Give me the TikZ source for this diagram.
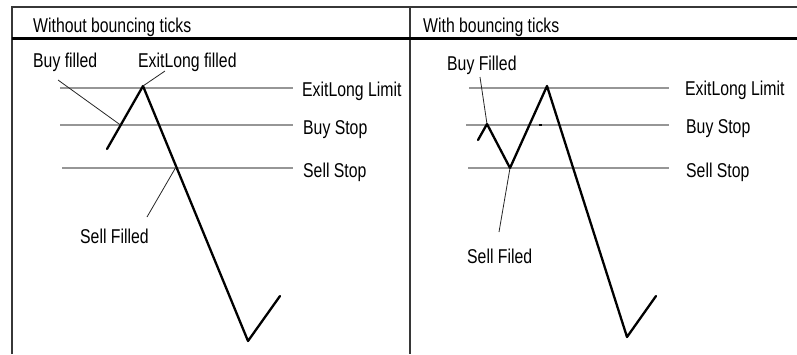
\documentclass[tikz,border=0pt]{standalone}
\usepackage{fontspec}
\setmainfont[FakeStretch=0.79]{Liberation Sans}
\usetikzlibrary{positioning}
\definecolor{level}{RGB}{150,150,150}
\definecolor{framegray}{RGB}{55,55,55}

\begin{document}
\begin{tikzpicture}[
    x=1pt,y=-1pt,
    lbl/.style={inner sep=0pt,anchor=base west,font=\fontsize{20}{22}\selectfont},
    levelline/.style={draw=level,line width=1.6pt},
    price/.style={line width=2.3pt,line join=round,line cap=round},
    leader/.style={line width=0.8pt,black!85},
    framebar/.style={draw=framegray,line width=1.6pt}
]
\useasboundingbox (0,0) rectangle (797,354);

% table frame
\draw[framebar] (12,354) -- (12,7) -- (797,7);
\draw[framebar] (410,7) -- (410,354);
\draw[draw=black,line width=3pt] (12,38) -- (797,38);
\node[lbl] (headL) at (33,32) {Without bouncing ticks};
\node[lbl] (headR) at (423,32) {With bouncing ticks};

% left panel: levels
\draw[levelline] (60,88) -- (293,88);
\draw[levelline] (60,125) -- (293,125);
\draw[levelline] (62,168) -- (293,168);
\node[lbl] (limitL) at (302,96) {ExitLong Limit};
\node[lbl] (buystopL) at (303,134) {Buy Stop};
\node[lbl] (sellstopL) at (303,177) {Sell Stop};

% left panel: price
\coordinate (a0) at (107,149);
\coordinate (a1) at (143,86);
\coordinate (a2) at (248,341);
\coordinate (a3) at (280,296);
\coordinate (buyfillL) at (120.5,125);
\coordinate (sellfillL) at (176,167);
\draw[price] (a0) -- (a1) -- (a2) -- (a3);

\node[lbl] (buyL) at (33,67) {Buy filled};
\node[lbl] (exitL) at (138,67) {ExitLong filled};
\node[lbl] (sellL) at (80,243) {Sell Filled};
\coordinate (buyLtail) at (58,80);
\coordinate (exitLtail) at (165,71);
\coordinate (sellLtail) at (147,217);
\draw[leader] (buyLtail) -- (buyfillL);
\draw[leader] (exitLtail) -- (a1);
\draw[leader] (sellLtail) -- (sellfillL);

% right panel: levels
\draw[levelline] (469,88) -- (669,88);
\draw[levelline] (466,125) -- (669,125);
\draw[levelline] (468,168) -- (669,168);
\node[lbl] (limitR) at (685,95) {ExitLong Limit};
\node[lbl] (buystopR) at (686,133) {Buy Stop};
\node[lbl] (sellstopR) at (686,177) {Sell Stop};

% right panel: price
\coordinate (b0) at (478,140);
\coordinate (b1) at (487,124);
\coordinate (b2) at (510,168);
\coordinate (b3) at (547,86);
\coordinate (b4) at (627,337);
\coordinate (b5) at (656,296);
\draw[price] (b0) -- (b1) -- (b2) -- (b3) -- (b4) -- (b5);
\draw[line width=1.6pt] (538.5,125) -- (541.5,125);

\node[lbl] (buyR) at (447,70) {Buy Filled};
\node[lbl] (sellR) at (467,263) {Sell Filed};
\coordinate (buyRtail) at (480,77);
\coordinate (sellRtail) at (499,232);
\draw[leader] (buyRtail) -- (b1);
\draw[leader] (sellRtail) -- (b2);
\end{tikzpicture}
\end{document}
